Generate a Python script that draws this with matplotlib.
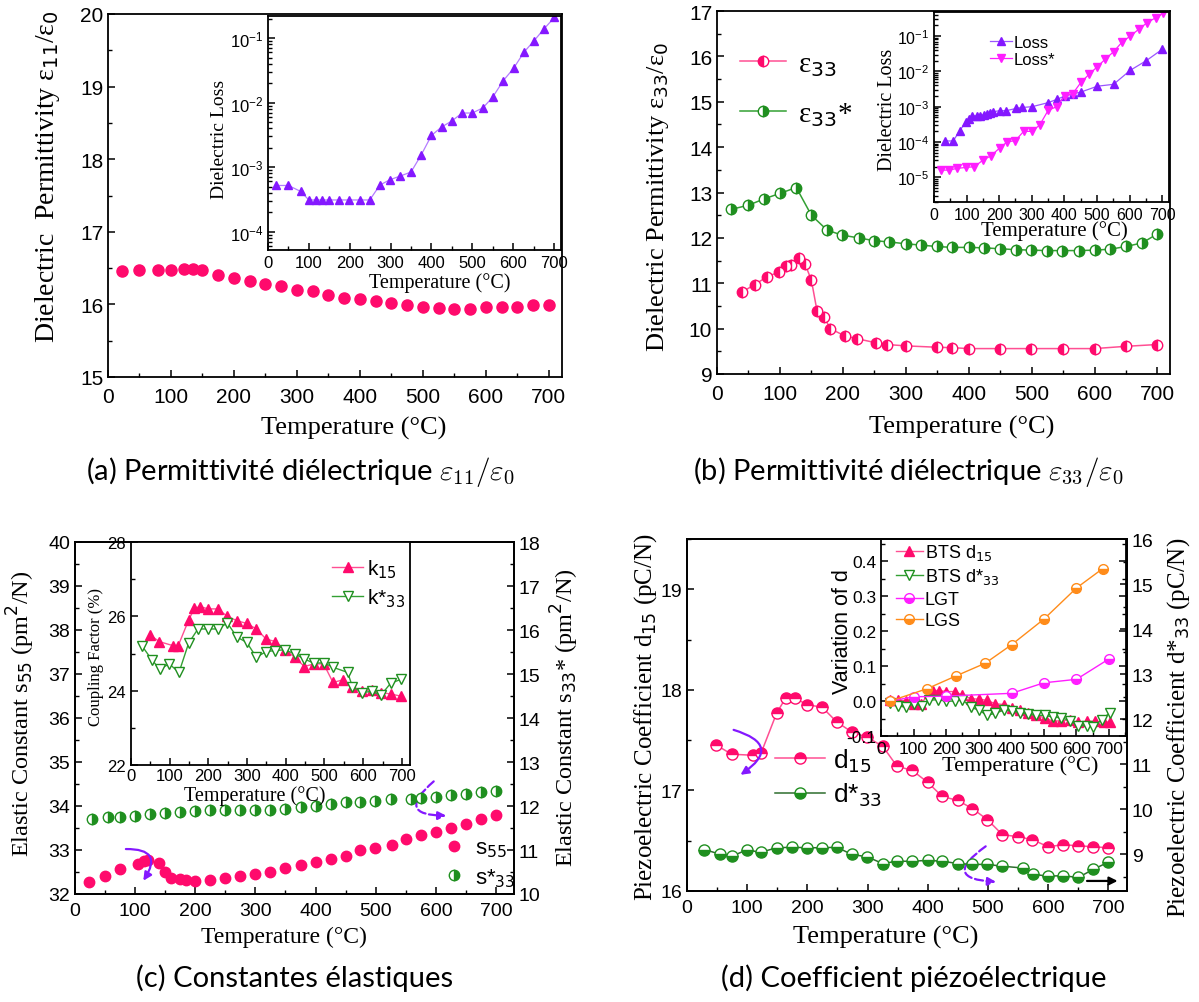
import matplotlib
matplotlib.use('Agg')
import matplotlib.pyplot as plt
from matplotlib.ticker import MultipleLocator, LogLocator, NullFormatter

W, H = 1199, 1003
plt.rcParams['font.family'] = ['Liberation Sans', 'DejaVu Sans']
plt.rcParams['axes.unicode_minus'] = False
plt.rcParams['xtick.direction'] = 'in'
plt.rcParams['ytick.direction'] = 'in'
plt.rcParams['axes.linewidth'] = 1.3

SERIF = 'Liberation Serif'
CAPF = ['Lato', 'DejaVu Sans']
PINK = '#ff0a6c'
PINKL = '#ff4f93'
GREEN = '#1f8f1f'
GREENL = '#33a033'
PURPLE = '#8418ff'
MAGENTA = '#ff1eff'
ORANGE = '#ff8c1a'

# (a) epsilon11 and dielectric loss
a_t = [23, 50, 80, 100, 120, 135, 150, 175, 200, 225, 250, 275, 300, 325, 350,
       375, 400, 425, 450, 475, 500, 525, 550, 575, 600, 625, 650, 675, 700]
a_eps = [16.46, 16.475, 16.475, 16.48, 16.49, 16.49, 16.475, 16.41, 16.37, 16.32,
         16.28, 16.25, 16.20, 16.18, 16.13, 16.09, 16.07, 16.05, 16.02, 15.99,
         15.97, 15.95, 15.94, 15.94, 15.97, 15.97, 15.97, 15.99, 15.99]
a_lt = [20, 50, 80, 100, 118, 133, 149, 174, 199, 224, 249, 274, 299, 324, 350,
        375, 400, 425, 450, 475, 500, 526, 550, 576, 601, 626, 651, 676, 701]
a_loss = [5.2e-4, 5.2e-4, 4.2e-4, 3.1e-4, 3.1e-4, 3.1e-4, 3.1e-4, 3.1e-4, 3.1e-4,
          3.1e-4, 3.1e-4, 5.3e-4, 6.4e-4, 7.3e-4, 8.4e-4, 1.55e-3, 3.1e-3, 4.2e-3,
          5.2e-3, 6.9e-3, 6.9e-3, 8.3e-3, 1.22e-2, 2.2e-2, 3.4e-2, 6.0e-2, 9.1e-2,
          0.14, 0.21]

# (b) epsilon33 and losses
b_t1 = [40, 60, 79, 99, 109, 118, 130, 140, 150, 159, 170, 180, 203, 222, 252, 270,
        300, 349, 374, 400, 450, 499, 550, 600, 650, 700]
b_eps = [10.81, 10.97, 11.14, 11.25, 11.38, 11.40, 11.56, 11.42, 11.07, 10.39, 10.26,
         10.0, 9.84, 9.78, 9.69, 9.65, 9.62, 9.59, 9.58, 9.56, 9.56, 9.56, 9.56, 9.56,
         9.61, 9.65]
b_t2 = [23, 50, 75, 100, 126, 150, 175, 199, 225, 249, 274, 300, 325, 349, 374, 400,
        425, 450, 475, 499, 525, 549, 575, 600, 625, 650, 676, 700]
b_eps_s = [12.63, 12.72, 12.86, 12.98, 13.11, 12.50, 12.17, 12.06, 12.0, 11.94, 11.91,
           11.87, 11.84, 11.81, 11.79, 11.79, 11.78, 11.76, 11.74, 11.73, 11.72, 11.72,
           11.72, 11.73, 11.75, 11.81, 11.89, 12.09]
b_lt1 = [34, 59, 79, 98, 108, 118, 131, 141, 152, 163, 172, 182, 201, 221, 252, 271,
         301, 350, 376, 401, 425, 451, 501, 551, 602, 651, 700]
b_loss = [1.07e-4, 1.07e-4, 2.1e-4, 3.7e-4, 4.5e-4, 5.5e-4, 5.5e-4, 5.5e-4, 5.8e-4,
          6.2e-4, 6.8e-4, 7.2e-4, 7.7e-4, 7.7e-4, 8.9e-4, 9.5e-4, 1.0e-3, 1.3e-3,
          1.6e-3, 2.0e-3, 2.3e-3, 2.6e-3, 3.8e-3, 4.3e-3, 1.07e-2, 2.0e-2, 4.2e-2]
b_lt2 = [21, 46, 72, 98, 124, 149, 175, 201, 224, 250, 275, 300, 324, 350, 376, 401,
         425, 451, 476, 501, 525, 551, 576, 602, 628, 654, 680, 703]
b_loss_s = [1.6e-5, 1.6e-5, 1.8e-5, 1.9e-5, 2.0e-5, 3.0e-5, 4.1e-5, 6.7e-5, 1.0e-4,
            1.1e-4, 2.0e-4, 2.0e-4, 3.0e-4, 7.8e-4, 1.0e-3, 2.0e-3, 2.3e-3, 4.9e-3,
            8.3e-3, 1.35e-2, 2.2e-2, 3.6e-2, 6.6e-2, 0.10, 0.155, 0.24, 0.33, 0.44]

# (c) elastic constants and coupling factors
c_t1 = [23, 50, 75, 104, 114, 121, 139, 149, 159, 174, 185, 199, 225, 250, 275, 300,
        325, 350, 375, 400, 425, 450, 474, 499, 527, 550, 575, 600, 625, 650, 675, 700]
c_s55 = [32.28, 32.42, 32.57, 32.68, 32.74, 32.77, 32.70, 32.51, 32.37, 32.34, 32.31,
         32.30, 32.32, 32.36, 32.40, 32.45, 32.51, 32.58, 32.66, 32.72, 32.80, 32.87,
         32.99, 33.05, 33.12, 33.25, 33.35, 33.42, 33.51, 33.58, 33.71, 33.80]
c_t2 = [29, 55, 75, 100, 125, 150, 175, 200, 225, 250, 275, 300, 325, 350, 375, 400,
        425, 450, 474, 499, 525, 559, 575, 600, 625, 650, 675, 700]
c_s33 = [11.71, 11.74, 11.76, 11.78, 11.82, 11.83, 11.86, 11.88, 11.91, 11.92, 11.91,
         11.92, 11.90, 11.93, 11.97, 12.01, 12.05, 12.08, 12.08, 12.12, 12.15, 12.15,
         12.18, 12.21, 12.25, 12.27, 12.31, 12.34]
c_kt1 = [48, 73, 109, 122, 149, 164, 179, 200, 224, 249, 274, 299, 324, 349, 373, 398,
         423, 448, 473, 498, 522, 547, 572, 597, 622, 646, 671, 699]
c_k15 = [25.51, 25.32, 25.21, 25.21, 25.90, 26.22, 26.26, 26.20, 26.20, 26.0, 25.88,
         25.81, 25.66, 25.39, 25.32, 25.10, 24.90, 24.65, 24.72, 24.72, 24.22, 24.29,
         24.11, 24.0, 24.02, 23.95, 23.91, 23.85]
c_kt2 = [28, 54, 74, 99, 124, 149, 173, 200, 224, 249, 274, 299, 324, 349, 373, 398,
         423, 448, 473, 498, 522, 560, 572, 597, 622, 646, 671, 699]
c_k33 = [25.21, 24.83, 24.58, 24.72, 24.49, 25.28, 25.66, 25.66, 25.66, 25.82, 25.44,
         25.30, 24.90, 25.05, 25.08, 25.10, 24.99, 24.85, 24.74, 24.75, 24.63, 24.49,
         24.11, 23.95, 23.98, 23.88, 24.20, 24.31]

# (d) piezoelectric coefficients and variations
d_t1 = [49, 74, 109, 123, 149, 164, 179, 200, 224, 249, 274, 299, 325, 349, 374, 400,
        424, 450, 474, 499, 524, 550, 574, 600, 624, 650, 675, 700]
d_d15 = [17.45, 17.36, 17.35, 17.37, 17.77, 17.92, 17.92, 17.85, 17.83, 17.68, 17.58,
         17.53, 17.44, 17.24, 17.20, 17.08, 16.94, 16.90, 16.82, 16.71, 16.56, 16.54,
         16.51, 16.44, 16.46, 16.45, 16.44, 16.43]
d_t2 = [29, 54, 74, 99, 123, 149, 175, 200, 224, 249, 274, 299, 325, 349, 374, 400,
        424, 450, 474, 499, 524, 558, 575, 600, 624, 650, 675, 700]
d_d33 = [9.11, 9.01, 8.96, 9.10, 9.05, 9.15, 9.16, 9.15, 9.15, 9.16, 9.0, 8.95, 8.80,
         8.85, 8.85, 8.87, 8.85, 8.80, 8.78, 8.78, 8.74, 8.70, 8.56, 8.52, 8.53, 8.49,
         8.67, 8.83]
d_lgs_t = [29, 141, 231, 320, 401, 500, 600, 680]
d_lgs = [0.0, 0.035, 0.072, 0.108, 0.161, 0.234, 0.323, 0.378]
d_lgt_t = [29, 100, 200, 401, 500, 600, 701]
d_lgt = [0.0, 0.012, 0.014, 0.022, 0.052, 0.062, 0.121]
d_vt = [29, 51, 77, 100, 124, 147, 161, 178, 200, 226, 250, 275, 301, 325, 351, 377,
        401, 426, 452, 477, 502, 529, 554, 580, 606, 631, 657, 683, 703]
d_v15 = [0.002, 0.004, 0.0, -0.008, -0.008, 0.024, 0.030, 0.030, 0.027, 0.027, 0.017,
         0.007, 0.005, 0.002, -0.008, -0.010, -0.020, -0.026, -0.035, -0.041, -0.048,
         -0.058, -0.056, -0.055, -0.061, -0.058, -0.058, -0.060, -0.060]
d_vt2 = [29, 51, 77, 100, 125, 147, 175, 200, 226, 250, 275, 301, 325, 351, 377, 401,
         426, 452, 477, 502, 529, 554, 580, 606, 631, 652, 678, 703]
d_v33 = [-0.005, -0.013, -0.018, -0.008, -0.013, 0.002, 0.004, -0.001, 0.0, 0.004,
         -0.018, -0.026, -0.041, -0.035, -0.026, -0.028, -0.033, -0.038, -0.041, -0.041,
         -0.046, -0.048, -0.056, -0.070, -0.071, -0.073, -0.053, -0.033]

fig = plt.figure(figsize=(W / 100, H / 100), dpi=100)


def box(l, t, r, b):
    return [l / W, 1 - b / H, (r - l) / W, (b - t) / H]


def ftext(x, y, s, size, rot=0, family=SERIF, **kw):
    fig.text(x / W, 1 - y / H, s, fontsize=size, rotation=rot, family=family,
             ha='center', va='center', **kw)


def style(ax, size, xmaj=100, xmin=50, ymaj=None, ymin=None):
    ax.tick_params(which='both', labelsize=size, top=False, right=False)
    ax.tick_params(which='major', length=5, width=1.1)
    ax.tick_params(which='minor', length=3, width=1.0)
    ax.xaxis.set_major_locator(MultipleLocator(xmaj))
    ax.xaxis.set_minor_locator(MultipleLocator(xmin))
    if ymaj:
        ax.yaxis.set_major_locator(MultipleLocator(ymaj))
        ax.yaxis.set_minor_locator(MultipleLocator(ymin))


def logstyle(ax):
    ax.set_yscale('log')
    ax.yaxis.set_major_locator(LogLocator(base=10, numticks=20))
    ax.yaxis.set_minor_locator(LogLocator(base=10, subs=range(2, 10), numticks=20))
    ax.yaxis.set_minor_formatter(NullFormatter())


def right_axis(ax, size):
    ax.yaxis.set_major_locator(MultipleLocator(1))
    ax.yaxis.set_minor_locator(MultipleLocator(0.5))
    ax.tick_params(which='both', labelsize=size, direction='in')
    ax.tick_params(which='major', length=5, width=1.1)
    ax.tick_params(which='minor', length=3, width=1.0)


# ---------------- (a) ----------------
ax = fig.add_axes(box(108, 15, 562, 378))
ax.plot(a_t, a_eps, 'o', color=PINK, ms=8, mec=PINK)
ax.set_xlim(0, 721)
ax.set_ylim(15, 20)
style(ax, 15, ymaj=1, ymin=0.5)
ax.tick_params(axis='x', pad=7)
ftext(48, 177, 'Dielectric  Permittivity ε$_{11}$/ε$_0$', 20, rot=90)
ftext(354, 428, 'Temperature (°C)', 19)

ai = fig.add_axes(box(268, 17, 561, 251))
ai.plot(a_lt, a_loss, '^-', color='#b47cff', ms=5.5, lw=0.9, mfc=PURPLE, mec=PURPLE)
logstyle(ai)
ai.set_ylim(5.2e-5, 0.22)
ai.set_xlim(0, 717)
style(ai, 12)
ftext(219, 139, 'Dielectric Loss', 14, rot=90)
ftext(440, 283, 'Temperature (°C)', 14.5)

ftext(300, 472, r'(a) Permittivité diélectrique $\varepsilon_{11}/\varepsilon_0$', 21,
      family=CAPF, math_fontfamily='cm')

# ---------------- (b) ----------------
bx = fig.add_axes(box(717, 12, 1170, 375))
l1, = bx.plot(b_t1, b_eps, 'o-', color=PINKL, lw=1.1, ms=7.5, fillstyle='left',
              mfc=PINK, mec=PINK, mfcalt='white', label='ε$_{33}$')
l2, = bx.plot(b_t2, b_eps_s, 'o-', color=GREENL, lw=1.1, ms=7.5, fillstyle='right',
              mfc=GREEN, mec=GREEN, mfcalt='white', label='ε$_{33}$*')
bx.set_xlim(0, 720)
bx.set_ylim(9, 17)
style(bx, 15, ymaj=1, ymin=0.5)
bx.tick_params(axis='x', pad=7)
bx.legend(handles=[l1, l2], loc='upper left', bbox_to_anchor=(0.05, 0.89),
          frameon=False, prop={'family': SERIF, 'size': 21}, handlelength=1.6,
          labelspacing=0.75, handletextpad=0.4, borderpad=0, borderaxespad=0)
ftext(658, 197, 'Dielectric Permittivity ε$_{33}$/ε$_0$', 19, rot=90)
ftext(962, 427, 'Temperature (°C)', 19)

bi = fig.add_axes(box(934, 13, 1169, 203))
m1, = bi.plot(b_lt1, b_loss, '^-', color='#9a55ff', ms=5.5, lw=0.9, mfc=PURPLE,
              mec=PURPLE, label='Loss')
m2, = bi.plot(b_lt2, b_loss_s, 'v-', color=MAGENTA, ms=5.5, lw=0.9, mfc=MAGENTA,
              mec=MAGENTA, label='Loss*')
logstyle(bi)
bi.set_ylim(2.0e-6, 0.48)
bi.set_xlim(0, 721)
style(bi, 11.5)
bi.legend(loc='upper left', bbox_to_anchor=(0.24, 0.88), frameon=False, fontsize=12,
          handlelength=1.3, handletextpad=0.1, labelspacing=0.15, borderpad=0,
          borderaxespad=0)
ftext(887, 110, 'Dielectric Loss', 14.5, rot=90)
ftext(1054, 231, 'Temperature (°C)', 15)

ftext(908, 472, r'(b) Permittivité diélectrique $\varepsilon_{33}/\varepsilon_0$', 21,
      family=CAPF, math_fontfamily='cm')

# ---------------- (c) ----------------
cx = fig.add_axes(box(75, 543, 514, 895))
p1, = cx.plot(c_t1, c_s55, 'o', color=PINK, ms=7.5, mec=PINK, label='s$_{55}$')
cx.set_xlim(0, 730)
cx.set_ylim(32, 40)
style(cx, 14, ymaj=1, ymin=0.5)
cx.tick_params(axis='x', pad=6)
cr = cx.twinx()
p2, = cr.plot(c_t2, c_s33, 'o', ms=7.5, fillstyle='right', mfc=GREEN, mec=GREEN,
              mfcalt='white', label='s*$_{33}$')
cr.set_ylim(10, 18)
right_axis(cr, 14)
cr.legend(handles=[p1, p2], loc='lower left', bbox_to_anchor=(0.845, 0.015),
          frameon=False, fontsize=16, handlelength=0.7, handletextpad=0.6,
          labelspacing=0.3, borderpad=0, borderaxespad=0)
cx.annotate('', xy=(111, 32.25), xytext=(80, 33.02),
            arrowprops=dict(arrowstyle='-|>', color=PURPLE, lw=1.6,
                            connectionstyle='arc3,rad=-1.0', mutation_scale=12))
cx.annotate('', xy=(622, 33.78), xytext=(600, 34.6),
            arrowprops=dict(arrowstyle='-|>', color=PURPLE, lw=1.6, ls='--',
                            connectionstyle='arc3,rad=1.4', mutation_scale=12))
ftext(21, 714, 'Elastic Constant s$_{55}$ (pm$^2$/N)', 17.5, rot=90)
ftext(565, 718, 'Elastic Constant s$_{33}$* (pm$^2$/N)', 17.5, rot=90)
ftext(284, 937, 'Temperature (°C)', 17)

ci = fig.add_axes(box(131, 543, 410, 766))
k1, = ci.plot(c_kt1, c_k15, '^-', color=PINKL, ms=7, lw=1.0, mfc=PINK, mec=PINK,
              label='k$_{15}$')
k2, = ci.plot(c_kt2, c_k33, 'v-', color=GREENL, ms=7, lw=1.0, mfc='white', mec=GREEN,
              label='k*$_{33}$')
ci.set_xlim(0, 721)
ci.set_ylim(22, 28)
style(ci, 12, ymaj=2, ymin=1)
ci.tick_params(axis='x', pad=2)
ci.legend(loc='upper left', bbox_to_anchor=(0.72, 0.93), frameon=False, fontsize=15,
          handlelength=1.5, handletextpad=0.2, labelspacing=0.3, borderpad=0,
          borderaxespad=0)
ftext(96, 657, 'Coupling Factor (%)', 12, rot=90)
ftext(255, 796, 'Temperature (°C)', 14.5)

ftext(295, 978, '(c) Constantes élastiques', 21, family=CAPF)

# ---------------- (d) ----------------
dx = fig.add_axes(box(687, 540, 1127, 892))
q1, = dx.plot(d_t1, d_d15, 'o-', color=PINKL, lw=1.1, ms=8, fillstyle='top',
              mfc=PINK, mec=PINK, mfcalt='white', label='d$_{15}$')
dx.set_xlim(0, 731)
dx.set_ylim(16, 19.5)
style(dx, 14, ymaj=1, ymin=0.5)
dx.tick_params(axis='x', pad=6)
dr = dx.twinx()
q2, = dr.plot(d_t2, d_d33, 'o-', color='#2e6e2e', lw=1.1, ms=8, fillstyle='bottom',
              mfc=GREEN, mec=GREEN, mfcalt='white', label='d*$_{33}$')
dr.set_ylim(8.19, 16)
right_axis(dr, 14)
dr.legend(handles=[q1, q2], loc='upper left', bbox_to_anchor=(0.2, 0.41), frameon=False,
          fontsize=19, handlelength=1.9, handletextpad=0.3, labelspacing=0.25,
          borderpad=0, borderaxespad=0)
dx.annotate('', xy=(85, 17.14), xytext=(73, 17.61),
            arrowprops=dict(arrowstyle='-|>', color=PURPLE, lw=1.6,
                            connectionstyle='arc3,rad=-1.1', mutation_scale=12))
dx.annotate('', xy=(518, 16.09), xytext=(500, 16.46),
            arrowprops=dict(arrowstyle='-|>', color=PURPLE, lw=1.6, ls='--',
                            connectionstyle='arc3,rad=1.5', mutation_scale=12))
dx.annotate('', xy=(720, 16.1), xytext=(660, 16.1),
            arrowprops=dict(arrowstyle='-|>', color='black', lw=1.6, mutation_scale=12))
ftext(646, 717, 'Piezoelectric Coefficient d$_{15}$ (pC/N)', 18, rot=90)
ftext(1179, 728, 'Piezoelectric Coefficient d*$_{33}$ (pC/N)', 18, rot=90)
ftext(886, 937, 'Temperature (°C)', 19)

di = fig.add_axes(box(881, 540, 1126, 737))
di.patch.set_alpha(0)
v1, = di.plot(d_vt, d_v15, '^-', color=PINKL, ms=7, lw=1.0, mfc=PINK, mec=PINK,
              label='BTS d$_{15}$')
v2, = di.plot(d_vt2, d_v33, 'v-', color=GREENL, ms=7, lw=1.0, mfc='white', mec=GREEN,
              label='BTS d*$_{33}$')
v3, = di.plot(d_lgt_t, d_lgt, 'o-', color=MAGENTA, ms=7, lw=1.0, fillstyle='bottom',
              mfc=MAGENTA, mec=MAGENTA, mfcalt='white', label='LGT')
v4, = di.plot(d_lgs_t, d_lgs, 'o-', color=ORANGE, ms=7, lw=1.0, fillstyle='bottom',
              mfc=ORANGE, mec=ORANGE, mfcalt='white', label='LGS')
di.set_xlim(0, 752)
di.set_ylim(-0.1, 0.463)
style(di, 12.5, ymaj=0.1, ymin=0.05)
di.tick_params(axis='y', which='both', right=True, labelright=False)
di.legend(loc='upper left', bbox_to_anchor=(0.06, 0.985), frameon=False, fontsize=13,
          handlelength=1.5, handletextpad=0.1, labelspacing=0.25, borderpad=0,
          borderaxespad=0)
ftext(842, 632, 'Variation of d', 15.5, rot=90, family='Liberation Sans')
ftext(1020, 766, 'Temperature (°C)', 16)

ftext(914, 978, '(d) Coefficient piézoélectrique', 21, family=CAPF)

fig.savefig('out.png', dpi=100)
